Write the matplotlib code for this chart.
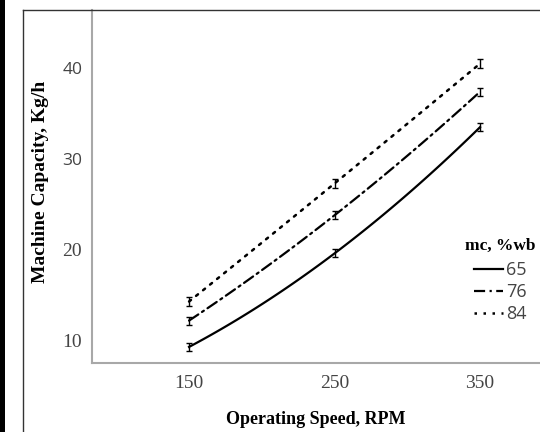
import numpy as np
import matplotlib.pyplot as plt
from matplotlib.lines import Line2D
from matplotlib.patches import Rectangle

# data
speed = [150, 250, 350]
mc_labels = ["65", "76", "84"]
cap_65 = [9.5, 19.8, 33.7]
cap_76 = [12.4, 24.0, 37.6]
cap_84 = [14.5, 27.5, 40.7]
err_65 = [0.45, 0.45, 0.45]
err_76 = [0.45, 0.45, 0.45]
err_84 = [0.45, 0.45, 0.45]
x_ticks = [150, 250, 350]
y_ticks = [10, 20, 30, 40]

serif = "Liberation Serif"
sans = "Open Sans"
gray_txt = "#444444"

fig = plt.figure(figsize=(5.4, 4.32), dpi=100)
ax = fig.add_axes([92 / 540, 1 - 363 / 432, 1 - 92 / 540, (363 - 10) / 432])

styles = [
    dict(linestyle="-", lw=1.6),
    dict(linestyle=(0, (5, 2, 1, 2)), lw=1.6),
    dict(linestyle=(0, (1, 2.6)), lw=1.8),
]
series = [(cap_65, err_65), (cap_76, err_76), (cap_84, err_84)]

handles = []
for (cap, err), st, lab in zip(series, styles, mc_labels):
    # smooth curve through the three measured points
    coef = np.polyfit(speed, cap, 2)
    xs = np.linspace(speed[0], speed[-1], 100)
    ax.plot(xs, np.polyval(coef, xs), color="black", dash_capstyle="round", **st)
    ax.errorbar(speed, cap, yerr=err, fmt="none", ecolor="black",
                elinewidth=1, capsize=2.5, capthick=1)
    handles.append(Line2D([], [], color="black", **st))

ax.set_xlim(83.3, 391.2)
ax.set_ylim(7.73, 46.6)
ax.set_xticks(x_ticks)
ax.set_yticks(y_ticks)
ax.set_xticklabels([str(v) for v in x_ticks], fontfamily=serif, fontsize=14, color=gray_txt)
ax.set_yticklabels([])
# y tick labels mix two typefaces in the original
for v in y_ticks:
    fam = sans if v >= 30 else serif
    size = 12.5 if v >= 30 else 14
    ax.text(-0.022, v, str(v), transform=ax.get_yaxis_transform(), ha="right",
            va="center", fontfamily=fam, fontsize=size, color=gray_txt)
ax.tick_params(length=0)
ax.tick_params(axis="x", pad=9)

for side in ("top", "right"):
    ax.spines[side].set_visible(False)
for side in ("left", "bottom"):
    ax.spines[side].set_color("#a8a8a8")
    ax.spines[side].set_linewidth(1.5)

ax.set_xlabel("Operating Speed, RPM", fontfamily=serif, fontweight="bold",
              fontsize=13, labelpad=13)
ax.set_ylabel("Machine Capacity, Kg/h", fontfamily=serif, fontweight="bold",
              fontsize=14)
ax.yaxis.set_label_coords(-0.097, 0.513)

leg = ax.legend(handles, mc_labels, title="mc, %wb", loc="upper left",
                bbox_to_anchor=(456 / 540, 1 - 229 / 432), bbox_transform=fig.transFigure,
                frameon=False, handlelength=1.6, handletextpad=0.2,
                labelspacing=0.22, borderpad=0,
                prop={"family": sans, "size": 13},
                title_fontproperties={"family": serif, "weight": "bold", "size": 12.5})
leg._legend_box.sep = 5
for t in leg.get_texts():
    t.set_color(gray_txt)

# outer frame of the original figure crop
fig.add_artist(Rectangle((0, 0), 5 / 540, 1, transform=fig.transFigure,
                         color="black", lw=0))
fig.add_artist(Line2D([22.5 / 540, 22.5 / 540], [0, 1 - 10 / 432],
                      transform=fig.transFigure, color="#333333", lw=1))
fig.add_artist(Line2D([22.5 / 540, 1], [1 - 10 / 432, 1 - 10 / 432],
                      transform=fig.transFigure, color="#333333", lw=1))

fig.savefig("out.png", dpi=100)
